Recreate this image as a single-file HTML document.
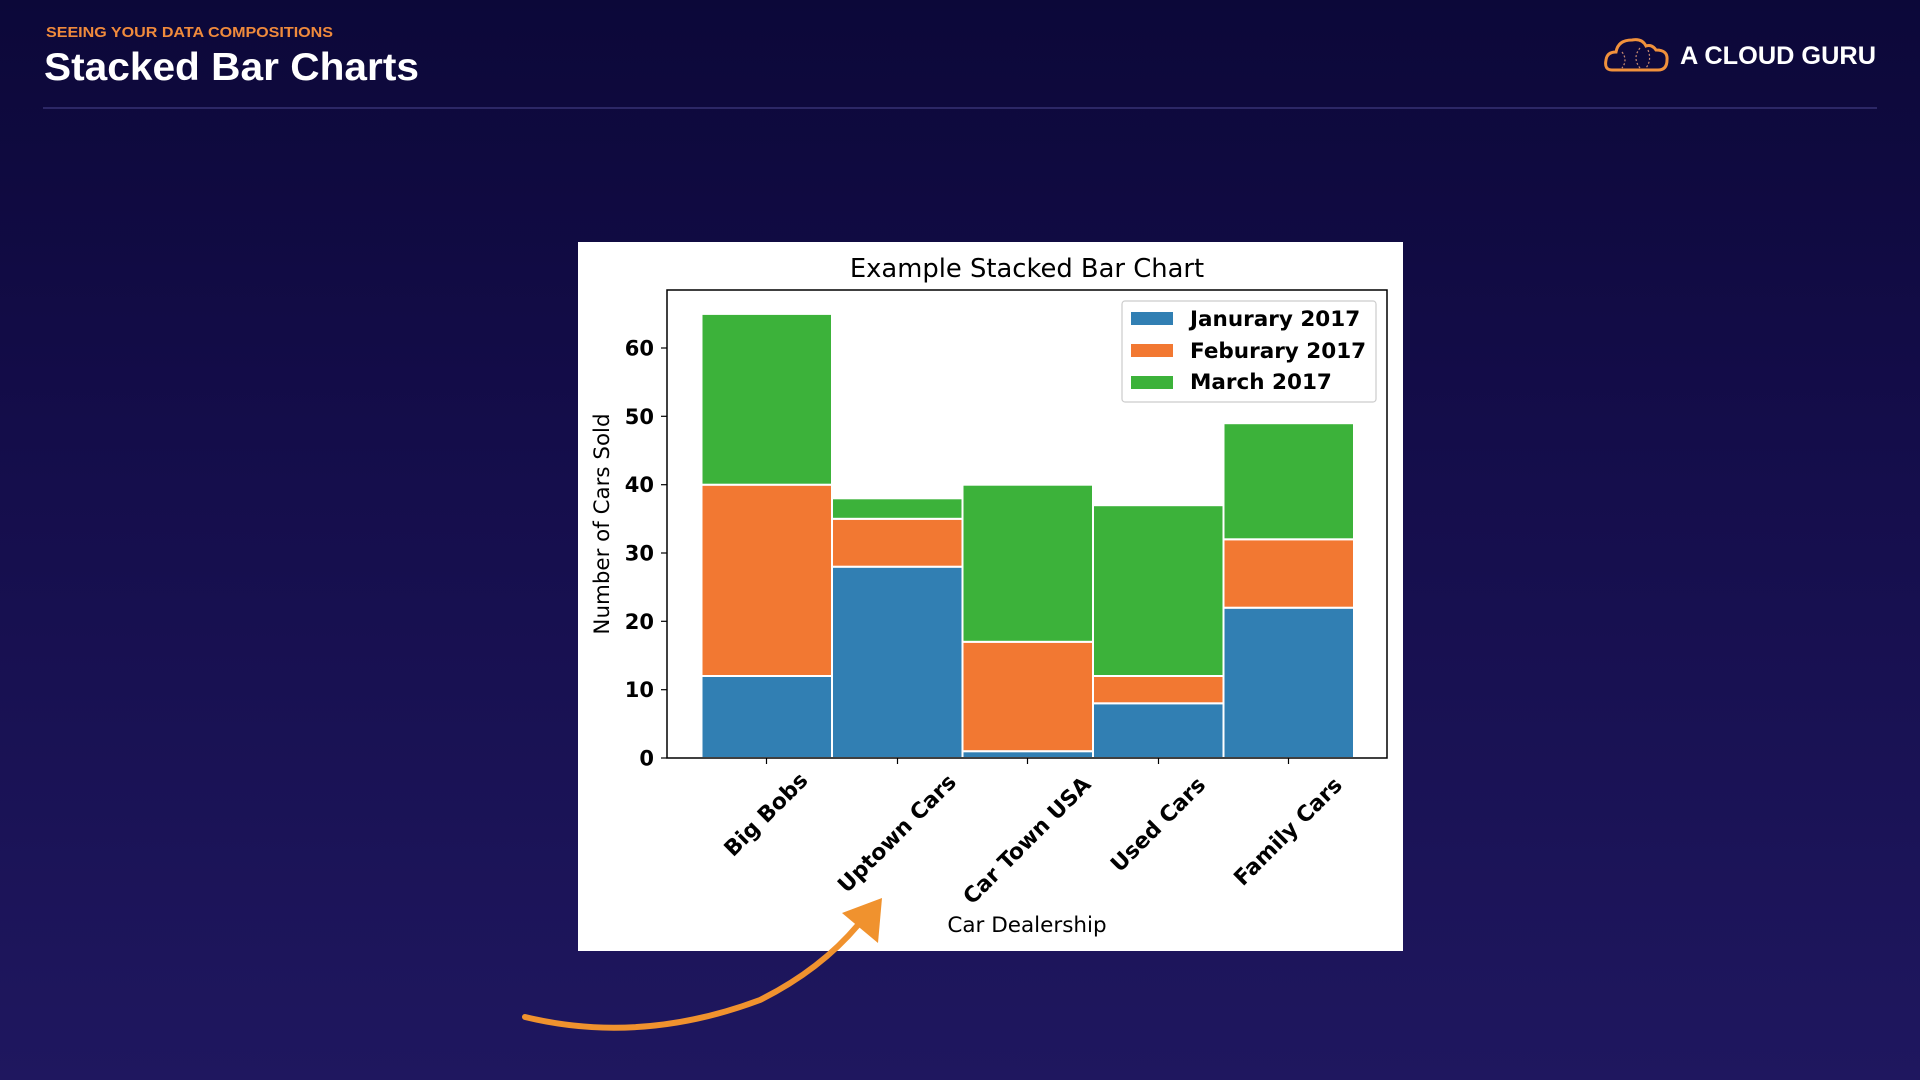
<!DOCTYPE html>
<html><head><meta charset="utf-8"><style>
html,body{margin:0;padding:0;width:1920px;height:1080px;overflow:hidden}
body{background:linear-gradient(#0c0839 0%,#140d4a 40%,#1f175f 100%)}
</style></head><body>
<svg width="1920" height="1080" xmlns="http://www.w3.org/2000/svg" style="position:absolute;left:0;top:0">
<g font-family="Liberation Sans, sans-serif">
<text x="46" y="37" fill="#f08a3c" font-size="15" font-weight="bold" textLength="287" lengthAdjust="spacingAndGlyphs">SEEING YOUR DATA COMPOSITIONS</text>
<text x="44" y="80" fill="#fff" font-size="39" font-weight="bold" textLength="375" lengthAdjust="spacingAndGlyphs">Stacked Bar Charts</text>
<line x1="43" y1="108" x2="1877" y2="108" stroke="#2c2766" stroke-width="2"/>
<text x="1680" y="64" fill="#fff" font-size="25" font-weight="bold" textLength="196" lengthAdjust="spacingAndGlyphs">A CLOUD GURU</text>
</g>
<path d="M1612 70 Q1604 70 1606 60 Q1607 52 1616 52 Q1618 40 1632 40 Q1642 38 1646 46 Q1652 44 1656 50 Q1668 50 1667 60 Q1667 70 1658 70 Z" fill="none" stroke="#f0913c" stroke-width="3"/>
<path d="M1622 52 q6 8 0 16 M1640 48 q-8 10 0 20 M1648 50 q4 10 -2 18" fill="none" stroke="#c88a70" stroke-width="1.2" stroke-dasharray="2 2"/>

<rect x="578" y="242" width="825" height="709" fill="#fff"/>
<g font-family="DejaVu Sans, sans-serif">
<text x="1027" y="277" font-size="25.8" text-anchor="middle" fill="#000">Example Stacked Bar Chart</text>
<g stroke="#fff" stroke-width="2">
<rect x="701.5" y="676" width="130.5" height="82" fill="#317fb3"/>
<rect x="701.5" y="484.7" width="130.5" height="191.3" fill="#f27832"/>
<rect x="701.5" y="313.9" width="130.5" height="170.8" fill="#3cb23a"/>
<rect x="832" y="566.7" width="130.5" height="191.3" fill="#317fb3"/>
<rect x="832" y="518.8" width="130.5" height="47.9" fill="#f27832"/>
<rect x="832" y="498.3" width="130.5" height="20.5" fill="#3cb23a"/>
<rect x="962.5" y="751.2" width="130.5" height="6.8" fill="#317fb3"/>
<rect x="962.5" y="641.8" width="130.5" height="109.4" fill="#f27832"/>
<rect x="962.5" y="484.7" width="130.5" height="157.1" fill="#3cb23a"/>
<rect x="1093" y="703.3" width="130.5" height="54.7" fill="#317fb3"/>
<rect x="1093" y="676" width="130.5" height="27.3" fill="#f27832"/>
<rect x="1093" y="505.2" width="130.5" height="170.8" fill="#3cb23a"/>
<rect x="1223.5" y="607.7" width="130.5" height="150.3" fill="#317fb3"/>
<rect x="1223.5" y="539.3" width="130.5" height="68.4" fill="#f27832"/>
<rect x="1223.5" y="423.2" width="130.5" height="116.1" fill="#3cb23a"/>
</g>
<rect x="667" y="290" width="720" height="468" fill="none" stroke="#000" stroke-width="1.5"/>
<g stroke="#000" stroke-width="1.2">
<line x1="661" y1="758" x2="667" y2="758"/><line x1="661" y1="689.7" x2="667" y2="689.7"/><line x1="661" y1="621.3" x2="667" y2="621.3"/><line x1="661" y1="553" x2="667" y2="553"/><line x1="661" y1="484.7" x2="667" y2="484.7"/><line x1="661" y1="416.3" x2="667" y2="416.3"/><line x1="661" y1="348" x2="667" y2="348"/>
<line x1="766.5" y1="758" x2="766.5" y2="764"/><line x1="897.5" y1="758" x2="897.5" y2="764"/><line x1="1027.5" y1="758" x2="1027.5" y2="764"/><line x1="1158.5" y1="758" x2="1158.5" y2="764"/><line x1="1288.5" y1="758" x2="1288.5" y2="764"/>
</g>
<g font-size="21" font-weight="bold" text-anchor="end" fill="#000">
<text x="654" y="765.5">0</text><text x="654" y="697.2">10</text><text x="654" y="628.8">20</text><text x="654" y="560.5">30</text><text x="654" y="492.2">40</text><text x="654" y="423.8">50</text><text x="654" y="355.5">60</text>
</g>
<text transform="translate(609,524) rotate(-90)" font-size="21.4" text-anchor="middle" fill="#000">Number of Cars Sold</text>
<g font-size="21.8" font-weight="bold" text-anchor="middle" fill="#000" dominant-baseline="central">
<text transform="translate(766.5,815) rotate(-45)">Big Bobs</text>
<text transform="translate(897.5,834) rotate(-45)">Uptown Cars</text>
<text transform="translate(1027.5,841) rotate(-45)">Car Town USA</text>
<text transform="translate(1158.5,825) rotate(-45)">Used Cars</text>
<text transform="translate(1288.5,832) rotate(-45)">Family Cars</text>
</g>
<text x="1027" y="932" font-size="21.5" text-anchor="middle" fill="#000">Car Dealership</text>
<rect x="1122" y="301" width="254" height="101" rx="3" fill="#fff" stroke="#ccc" stroke-width="1.2"/>
<rect x="1131" y="312" width="42" height="13" fill="#317fb3"/>
<rect x="1131" y="344" width="42" height="13" fill="#f27832"/>
<rect x="1131" y="376" width="42" height="13" fill="#3cb23a"/>
<g font-size="21.5" font-weight="bold" fill="#000">
<text x="1190" y="326">Janurary 2017</text>
<text x="1190" y="358">Feburary 2017</text>
<text x="1190" y="389">March 2017</text>
</g>
</g>
<path d="M525 1017 Q640 1045 760 1000 Q820 970 858 925" fill="none" stroke="#f0922e" stroke-width="6" stroke-linecap="round"/>
<polygon points="842,913 882,898 878,943" fill="#f0922e"/>
</svg>
</body></html>
